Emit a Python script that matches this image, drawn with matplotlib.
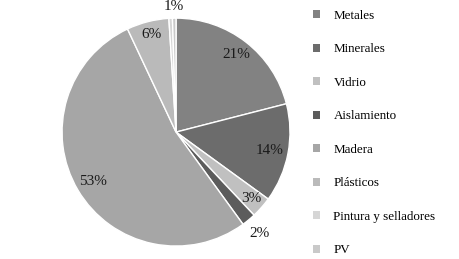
import numpy as np
import matplotlib.pyplot as plt
from matplotlib.patches import Patch

categorias = ['Metales', 'Minerales', 'Vidrio', 'Aislamiento', 'Madera',
              'Plásticos', 'Pintura y selladores', 'PV']
valores = [21, 14, 3, 2, 53, 6, 0.5, 0.5]
etiquetas = ['21%', '14%', '3%', '2%', '53%', '6%', '', '1%']
colores = ['#828282', '#6c6c6c', '#c0c0c0', '#5c5c5c', '#a6a6a6',
           '#bababa', '#d6d6d6', '#c9c9c9']

plt.rcParams['font.family'] = ['Liberation Serif', 'DejaVu Serif']

fig = plt.figure(figsize=(4.59, 2.59), dpi=100)
ax = fig.add_axes([0.135, 0.05, 0.497, 0.88])
wedges, _ = ax.pie(valores, colors=colores, startangle=90, counterclock=False,
                   wedgeprops=dict(edgecolor='white', linewidth=1))
ax.set_aspect('equal')

# distancia radial de cada etiqueta
dist = [0.86, 0.84, 0.88, 1.15, 0.85, 0.88, 1.1, 1.1]
for w, txt, d in zip(wedges, etiquetas, dist):
    if not txt:
        continue
    ang = np.deg2rad((w.theta1 + w.theta2) / 2)
    ax.text(d * np.cos(ang), d * np.sin(ang), txt, ha='center', va='center',
            fontsize=11, color='#1a1a1a')
ax.set_xlim(-1.0, 1.0)
ax.set_ylim(-1.0, 1.0)

handles = [Patch(facecolor=c, edgecolor='none') for c in colores]
fig.legend(handles, categorias, loc='upper left', bbox_to_anchor=(0.656, 1.008),
           frameon=False, fontsize=9.4, handlelength=0.58, handleheight=0.58,
           handletextpad=1.0, labelspacing=1.65)

fig.savefig('out.png', dpi=100)
